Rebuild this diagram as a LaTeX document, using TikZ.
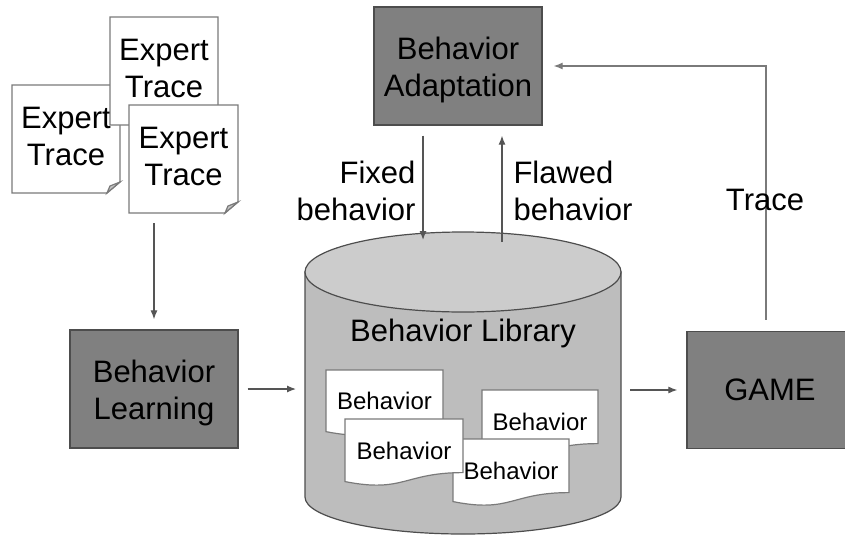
\documentclass[tikz,border=0pt]{standalone}
\usepackage{fontspec}
\setmainfont{Liberation Sans}
\usetikzlibrary{arrows.meta,calc}
\definecolor{boxgray}{HTML}{808080}
\definecolor{boxline}{HTML}{4D4D4D}
\definecolor{docline}{HTML}{7A7A7A}
\definecolor{foldgray}{HTML}{C4C4C4}
\definecolor{cylbody}{HTML}{BDBDBD}
\definecolor{cyltop}{HTML}{CCCCCC}
\definecolor{arrcol}{HTML}{555555}
\newcommand\expdoc[5]{%
  \draw[docstroke, fill=white] (#2,#3) -- (#4,#3) -- (#4,#5-11) -- (#4-13,#5) -- (#2,#5) -- cycle;
  \draw[docstroke, fill=foldgray] (#4,#5-11) -- (#4-10,#5-7) -- (#4-13,#5) -- cycle;
  \node[bigtext, minimum width=#4-#2, minimum height=#5-#3, inner sep=0pt] (#1) at ({(#2+#4)/2},{(#3+#5)/2-3}) {Expert\\Trace};
}
\newcommand\behdoc[5]{%
  \draw[docstroke, fill=white] (#2,#3) -- (#4,#3) -- (#4,{#3+0.8*(#5-#3)})
    .. controls ({(#2+#4)/2},{#3+0.8*(#5-#3)}) and ({(#2+#4)/2},{#3+1.107*(#5-#3)}) .. (#2,{#3+0.934*(#5-#3)}) -- cycle;
  \node[smalltext] (#1) at ({(#2+#4)/2},{#3+0.47*(#5-#3)}) {Behavior};
}
\begin{document}
\begin{tikzpicture}[x=1pt,y=-1pt,
  bigtext/.style={font=\fontsize{31}{37}\selectfont, align=center, text=black},
  smalltext/.style={font=\fontsize{24}{29}\selectfont, text=black},
  docstroke/.style={draw=docline, line width=1.2pt},
  gbox/.style={bigtext, draw=boxline, fill=boxgray, line width=1.3pt, minimum width=168pt, minimum height=118pt, inner sep=0pt},
  arr/.style={draw=arrcol, line width=1.2pt, -{Latex[length=9pt,width=7pt]}}]
\path[use as bounding box, fill=white] (0,0) rectangle (845,535);

% expert traces
\expdoc{e1}{12}{85}{120}{193}
\expdoc{e2}{110}{17}{218}{125}
\expdoc{e3}{129}{105}{238}{213}

% boxes
\node[gbox] (bl) at (154,389) {};
\node[bigtext] (blt) at (154,393) {Behavior\\Learning};
\node[gbox] (ba) at (458,66) {};
\node[bigtext] (bat) at (458,70) {Behavior\\Adaptation};
\node[gbox, minimum width=166pt, minimum height=117pt] (game) at (770,390) {GAME};

% cylinder
\draw[draw=boxline, line width=1.2pt, fill=cylbody] (305,272) -- (305,497)
  arc[start angle=180, end angle=0, x radius=158, y radius=37] -- (621,272) -- cycle;
\draw[draw=boxline, line width=1.2pt, fill=cyltop] (463,272) ellipse [x radius=158, y radius=40];
\node[bigtext] (lib) at (463,333) {Behavior Library};

% behaviors
\behdoc{b1}{326}{370}{443}{436}
\behdoc{b3}{482}{390}{598}{457}
\behdoc{b4}{453}{439}{569}{506}
\behdoc{b2}{345}{419}{463}{486}

% connectors
\coordinate (docsout) at (154,213);
\draw[arr, shorten <=10pt, shorten >=10pt] (docsout) -- (bl.north);
\coordinate (cylL) at (305,389);
\draw[arr, shorten <=9pt, shorten >=9pt] (bl.east) -- (cylL);
\coordinate (cylR) at (621,390);
\draw[arr, shorten <=9pt, shorten >=9pt] (cylR) -- (game.west);
\coordinate (fx) at (423,240);
\draw[arr, shorten <=10pt] (fx |- ba.south) -- (fx);
\coordinate (fl) at (502,242);
\draw[arr, shorten >=10pt] (fl) -- (fl |- ba.south);
\coordinate (tr) at (766,66);
\draw[arr, draw=docline, shorten <=11pt, shorten >=11pt] (tr |- game.north) -- (tr) -- (ba.east);

% labels
\node[bigtext, anchor=east, align=right] (fixl) at (419,191) {Fixed\\behavior};
\node[bigtext, anchor=west, align=left] (flal) at (510,191) {Flawed\\behavior};
\node[bigtext] (trl) at (765,200) {Trace};
\end{tikzpicture}
\end{document}
